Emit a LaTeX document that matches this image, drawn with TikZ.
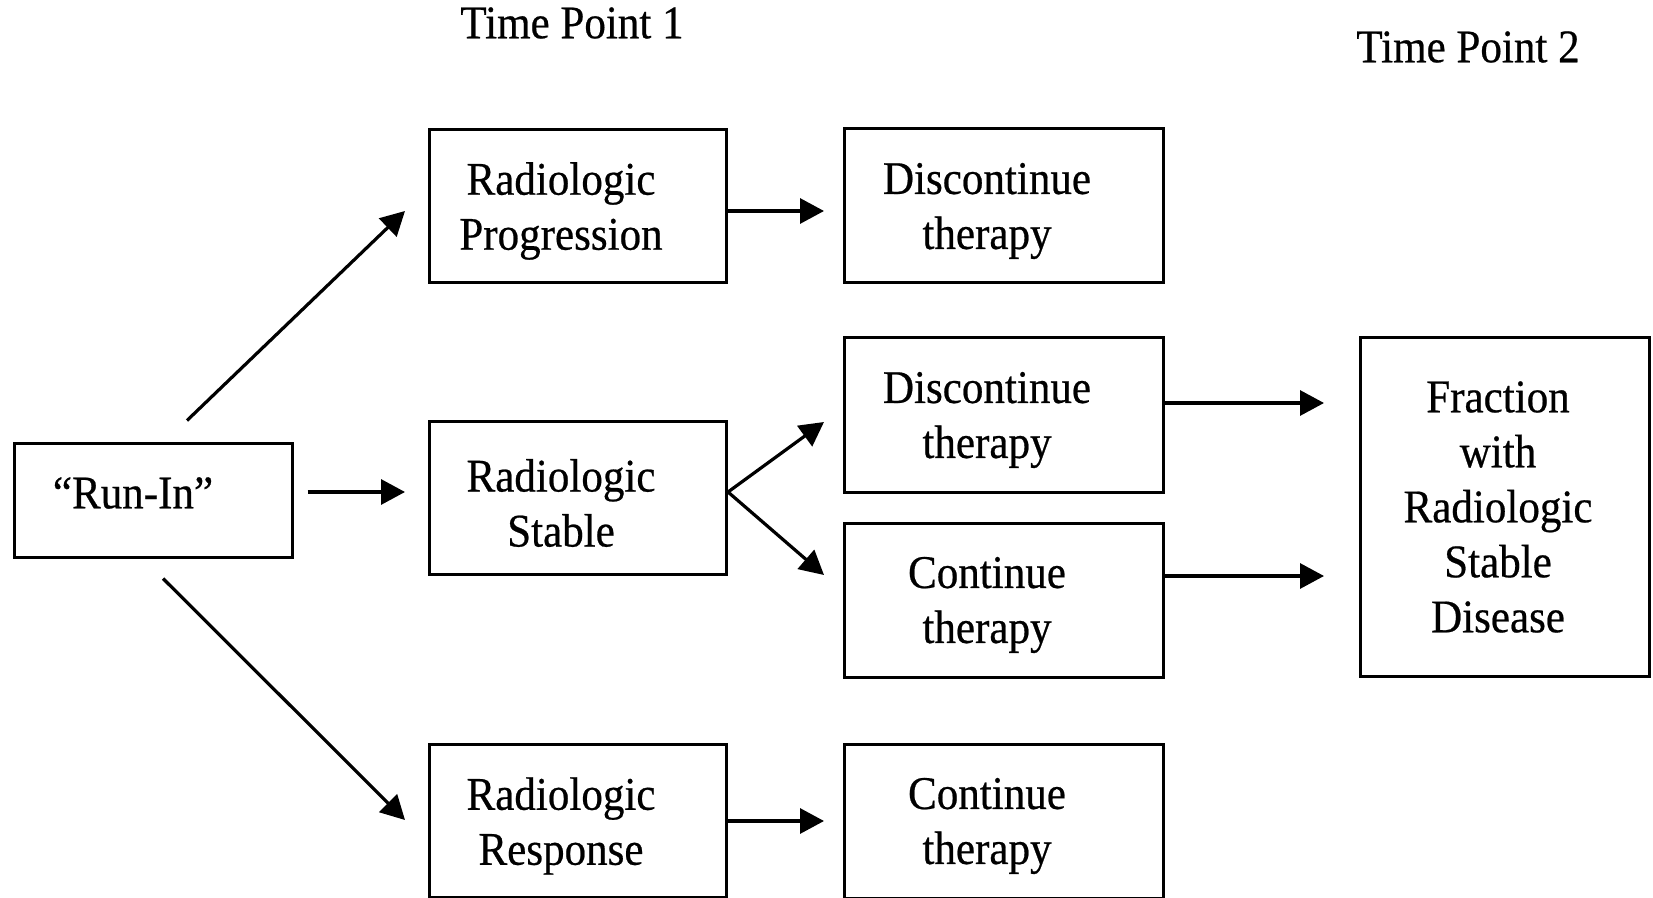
\documentclass[tikz,border=0pt]{standalone}
\usepackage{fontspec}
\setmainfont{Liberation Serif}[FakeStretch=0.92,FakeBold=0.5]
\usetikzlibrary{arrows.meta}
\begin{document}
\begin{tikzpicture}[x=0.5pt,y=-0.5pt,line cap=butt,every node/.style={font=\fontsize{23.4}{27.5}\selectfont,align=center}]
\tikzset{bx/.style={draw,line width=1.5pt,inner sep=0pt},txt/.style={xshift=-8.5pt,yshift=-2.5pt},
  arr/.style={line width=1.6pt,-{Triangle[length=12pt,width=12.5pt]}}}
\useasboundingbox (0,0) rectangle (1653,898);
% time labels
\node (tp1) at (572,23) {Time Point 1}; \node (tp2) at (1468,47) {Time Point 2};
% boxes
\node[bx,minimum width=139pt,minimum height=57pt,label={[xshift=-10pt,yshift=3.5pt]center:``Run-In''}] (runin) at (153,500) {};
\foreach \y/\nm/\lab in {206/prog/{Radiologic\\Progression},498/stable/{Radiologic\\Stable},821/resp/{Radiologic\\Response}}
  \node[bx,minimum width=148.5pt,minimum height=76.5pt,label={[txt]center:\lab}] (\nm) at (578,\y) {};
\foreach \y/\nm/\lab in {206/discA/{Discontinue\\therapy},415/discB/{Discontinue\\therapy},600/contB/{Continue\\therapy},821/contC/{Continue\\therapy}}
  \node[bx,minimum width=159.5pt,minimum height=77pt,label={[txt]center:\lab}] (\nm) at (1004,\y) {};
\node[bx,minimum width=144.5pt,minimum height=169.5pt,label={[xshift=-3.5pt]center:Fraction\\with\\Radiologic\\Stable\\Disease}] (frac) at (1505,507) {};
% arrows
\draw[arr] ([shift={(34,-21)}]runin.north) -- ([shift={(-23,5)}]prog.west);
\draw[arr] ([shift={(14,-8)}]runin.east) -- ([shift={(-23,-6)}]stable.west);
\draw[arr] ([shift={(10,20)}]runin.south) -- ([shift={(-23,-1)}]resp.west);
\draw[arr] ([yshift=-2.5pt]prog.east) -- ([shift={(-19,5)}]discA.west);
\draw[arr] ([yshift=3pt]stable.east) -- ([shift={(-19,7)}]discB.west);
\draw[arr] ([yshift=3pt]stable.east) -- ([shift={(-19,-25)}]contB.west);
\draw[arr] (resp.east) -- ([xshift=-9.5pt]contC.west);
\draw[arr] ([yshift=6pt]discB.east) -- ([shift={(-35,-104)}]frac.west);
\draw[arr] ([yshift=12pt]contB.east) -- ([shift={(-35,69)}]frac.west);
\end{tikzpicture}
\end{document}
